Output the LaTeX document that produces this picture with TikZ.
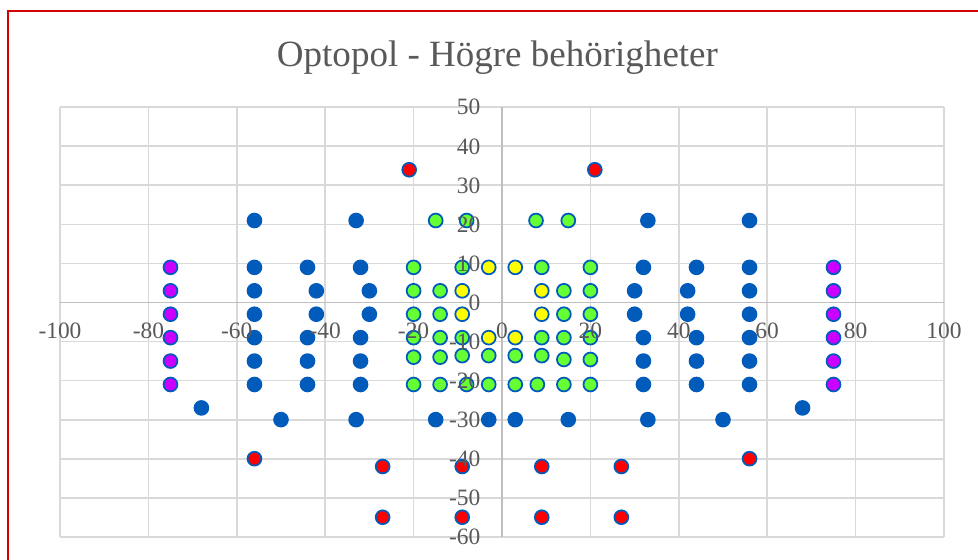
\documentclass[tikz,border=0pt]{standalone}
\usepackage{fontspec}
\setmainfont{Liberation Serif}
\definecolor{gridc}{HTML}{D9D9D9}
\definecolor{axisc}{HTML}{BFBFBF}
\definecolor{txtc}{HTML}{595959}
\definecolor{mblue}{RGB}{0,91,187}
\definecolor{mmag}{HTML}{CC00FF}
\definecolor{mgreen}{HTML}{66FF33}
\definecolor{myel}{HTML}{FFFF00}
\definecolor{mred}{HTML}{FF0000}
\definecolor{bordc}{RGB}{210,0,0}
\begin{document}
\begin{tikzpicture}[x=0.1326cm,y=0.11712cm,
  gridline/.style={draw=gridc,line width=1.5pt},
  axisline/.style={draw=axisc,line width=1.5pt},
  mk/.style={circle,minimum size=0.415cm,inner sep=0pt,line width=1.5pt,draw=mblue,fill=#1},
  ticklab/.style={text=txtc,font=\fontsize{20}{20}\selectfont,inner sep=0pt},
  titlelab/.style={text=txtc,font=\fontsize{31.6}{32}\selectfont,inner sep=0pt}]
\clip (-113.57,-65.70) rectangle (107.69,77.48);
\fill[white] (-113.57,-65.70) rectangle (107.69,77.48);
\draw[draw=bordc,line width=1.8pt] (-111.76,74.74) rectangle (115,-75);
% grid
\foreach \x in {-100,-80,...,100} \draw[gridline] (\x,-60) -- (\x,50);
\foreach \y in {-60,-50,...,50} \draw[gridline] (-100,\y) -- (100,\y);
\draw[axisline] (0,-60) -- (0,50);
\draw[axisline] (-100,0) -- (100,0);
% blue points
\foreach \px/\py [count=\i] in {-56/21,-33/21,33/21,56/21,
  -56/9,-44/9,-32/9,32/9,44/9,56/9,
  -56/3,-42/3,-30/3,30/3,42/3,56/3,
  -56/-3,-42/-3,-30/-3,30/-3,42/-3,56/-3,
  -56/-9,-44/-9,-32/-9,32/-9,44/-9,56/-9,
  -56/-15,-44/-15,-32/-15,32/-15,44/-15,56/-15,
  -56/-21,-44/-21,-32/-21,32/-21,44/-21,56/-21,
  -68/-27,68/-27,
  -50/-30,-33/-30,-15/-30,-3/-30,3/-30,15/-30,33/-30,50/-30}
  \node[mk=mblue] (b\i) at (\px,\py) {};
% magenta
\foreach \px/\py [count=\i] in {-75/9,-75/3,-75/-3,-75/-9,-75/-15,-75/-21,
  75/9,75/3,75/-3,75/-9,75/-15,75/-21}
  \node[mk=mmag] (m\i) at (\px,\py) {};
% red
\foreach \px/\py [count=\i] in {-21/34,21/34,-56/-40,56/-40,-27/-42,-9/-42,9/-42,27/-42,
  -27/-55,-9/-55,9/-55,27/-55}
  \node[mk=mred] (r\i) at (\px,\py) {};
% green
\foreach \px/\py [count=\i] in {-15/21,-8/21,7.7/21,15/21,
  -20/9,-9/9,9/9,20/9,
  -20/3,-14/3,14/3,20/3,
  -20/-3,-14/-3,14/-3,20/-3,
  -20/-9,-14/-9,-9/-9,9/-9,14/-9,20/-9,
  -20/-14,-14/-14,-9/-13.6,-3/-13.6,3/-13.6,9/-13.6,14/-14.6,20/-14.6,
  -20/-21,-14/-21,-8/-21,-3/-21,3/-21,8/-21,14/-21,20/-21}
  \node[mk=mgreen] (g\i) at (\px,\py) {};
% yellow
\foreach \px/\py [count=\i] in {-3/9,3/9,-9/3,9/3,-9/-3,9/-3,-3/-9,3/-9}
  \node[mk=myel] (y\i) at (\px,\py) {};
% axis labels
\foreach \y [count=\i] in {-60,-50,...,50}
  \node[ticklab,anchor=east] (yl\i) at (-4.86,\y) {\y};
\foreach \x [count=\i] in {-100,-80,...,100}
  \node[ticklab,anchor=center] (xl\i) at (\x,-7.3) {\x};
% title
\node[titlelab,anchor=base] (title) at (-1.02,60.4) {Optopol - Högre behörigheter};
\end{tikzpicture}
\end{document}
